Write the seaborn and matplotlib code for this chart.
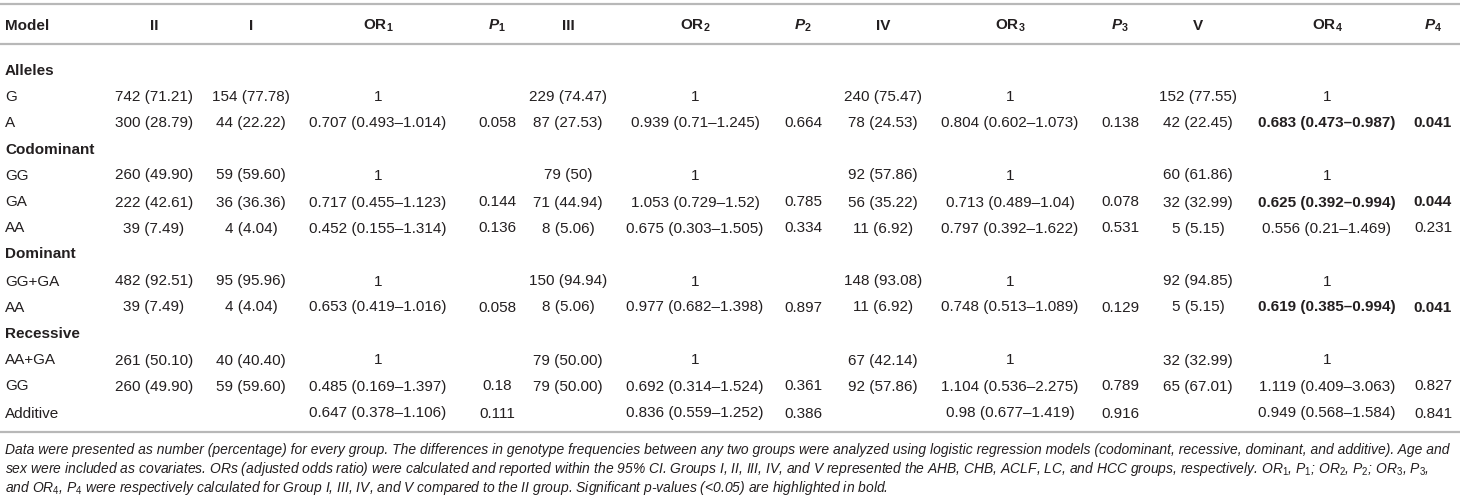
import matplotlib
matplotlib.use("Agg")
import matplotlib.pyplot as plt
import seaborn as sns

# ---------------- data ----------------
columns = ["Model", "II", "I", "OR1", "P1", "III", "OR2", "P2", "IV", "OR3", "P3", "V", "OR4", "P4"]
models = ["Alleles", "G", "A", "Codominant", "GG", "GA", "AA", "Dominant", "GG+GA", "AA",
          "Recessive", "AA+GA", "GG", "Additive"]
section_idx = [0, 3, 7, 10]
II = ["", "742 (71.21)", "300 (28.79)", "", "260 (49.90)", "222 (42.61)", "39 (7.49)", "",
      "482 (92.51)", "39 (7.49)", "", "261 (50.10)", "260 (49.90)", ""]
I = ["", "154 (77.78)", "44 (22.22)", "", "59 (59.60)", "36 (36.36)", "4 (4.04)", "",
     "95 (95.96)", "4 (4.04)", "", "40 (40.40)", "59 (59.60)", ""]
OR1 = ["", "1", "0.707 (0.493–1.014)", "", "1", "0.717 (0.455–1.123)", "0.452 (0.155–1.314)", "",
       "1", "0.653 (0.419–1.016)", "", "1", "0.485 (0.169–1.397)", "0.647 (0.378–1.106)"]
P1 = ["", "", "0.058", "", "", "0.144", "0.136", "", "", "0.058", "", "", "0.18", "0.111"]
III = ["", "229 (74.47)", "87 (27.53)", "", "79 (50)", "71 (44.94)", "8 (5.06)", "",
       "150 (94.94)", "8 (5.06)", "", "79 (50.00)", "79 (50.00)", ""]
OR2 = ["", "1", "0.939 (0.71–1.245)", "", "1", "1.053 (0.729–1.52)", "0.675 (0.303–1.505)", "",
       "1", "0.977 (0.682–1.398)", "", "1", "0.692 (0.314–1.524)", "0.836 (0.559–1.252)"]
P2 = ["", "", "0.664", "", "", "0.785", "0.334", "", "", "0.897", "", "", "0.361", "0.386"]
IV = ["", "240 (75.47)", "78 (24.53)", "", "92 (57.86)", "56 (35.22)", "11 (6.92)", "",
      "148 (93.08)", "11 (6.92)", "", "67 (42.14)", "92 (57.86)", ""]
OR3 = ["", "1", "0.804 (0.602–1.073)", "", "1", "0.713 (0.489–1.04)", "0.797 (0.392–1.622)", "",
       "1", "0.748 (0.513–1.089)", "", "1", "1.104 (0.536–2.275)", "0.98 (0.677–1.419)"]
P3 = ["", "", "0.138", "", "", "0.078", "0.531", "", "", "0.129", "", "", "0.789", "0.916"]
V = ["", "152 (77.55)", "42 (22.45)", "", "60 (61.86)", "32 (32.99)", "5 (5.15)", "",
     "92 (94.85)", "5 (5.15)", "", "32 (32.99)", "65 (67.01)", ""]
OR4 = ["", "1", "0.683 (0.473–0.987)", "", "1", "0.625 (0.392–0.994)", "0.556 (0.21–1.469)", "",
       "1", "0.619 (0.385–0.994)", "", "1", "1.119 (0.409–3.063)", "0.949 (0.568–1.584)"]
P4 = ["", "", "0.041", "", "", "0.044", "0.231", "", "", "0.041", "", "", "0.827", "0.841"]
bold_rows = [2, 5, 9]          # significant rows (OR4 / P4)
bold_cols = ["OR4", "P4"]

header_labels = {
    "Model": "Model", "II": "II", "I": "I", "III": "III", "IV": "IV", "V": "V",
    "OR1": r"$\mathbf{OR}_\mathbf{1}$", "OR2": r"$\mathbf{OR}_\mathbf{2}$",
    "OR3": r"$\mathbf{OR}_\mathbf{3}$", "OR4": r"$\mathbf{OR}_\mathbf{4}$",
    "P1": r"$\mathbfit{P}_\mathbf{1}$", "P2": r"$\mathbfit{P}_\mathbf{2}$",
    "P3": r"$\mathbfit{P}_\mathbf{3}$", "P4": r"$\mathbfit{P}_\mathbf{4}$",
}
footnote = [
    "Data were presented as number (percentage) for every group. The differences in genotype frequencies between any two groups were analyzed using logistic regression models (codominant, recessive, dominant, and additive). Age and",
    r"sex were included as covariates. ORs (adjusted odds ratio) were calculated and reported within the 95% CI. Groups I, II, III, IV, and V represented the AHB, CHB, ACLF, LC, and HCC groups, respectively. $OR_\mathit{1}$, $P_\mathit{1}$; $OR_\mathit{2}$, $P_\mathit{2}$; $OR_\mathit{3}$, $P_\mathit{3}$,",
    r"and $OR_\mathit{4}$, $P_\mathit{4}$ were respectively calculated for Group I, III, IV, and V compared to the II group. Significant p-values (<0.05) are highlighted in bold.",
]

table = {"II": II, "I": I, "OR1": OR1, "P1": P1, "III": III, "OR2": OR2, "P2": P2,
         "IV": IV, "OR3": OR3, "P3": P3, "V": V, "OR4": OR4, "P4": P4}

# ---------------- layout / style ----------------
sns.set_theme(style="white")
plt.rcParams["font.family"] = ["Liberation Sans", "DejaVu Sans"]
plt.rcParams["mathtext.fontset"] = "custom"
plt.rcParams["mathtext.rm"] = "Liberation Sans"
plt.rcParams["mathtext.it"] = "Liberation Sans:italic"
plt.rcParams["mathtext.bf"] = "Liberation Sans:bold"
plt.rcParams["mathtext.bfit"] = "Liberation Sans:italic:bold"

W, H = 1460, 501
col_x = {"II": 154, "I": 251, "OR1": 378, "P1": 497, "III": 568, "OR2": 695, "P2": 803,
         "IV": 883, "OR3": 1010, "P3": 1120, "V": 1198, "OR4": 1327, "P4": 1433}
model_x = 5
text_color = "#231f20"
line_color = "#b8b8b8"
fs = 11
header_base = 29.5
row0_base = 73.5
row_step = 26.4

fig = plt.figure(figsize=(W / 100, H / 100), dpi=100)
ax = fig.add_axes([0, 0, 1, 1])
ax.set_xlim(0, W)
ax.set_ylim(H, 0)
ax.axis("off")

for yl in (4, 44, 432):
    ax.axhline(yl, color=line_color, lw=1.6)

# header
ax.text(model_x, header_base, header_labels["Model"], ha="left", va="baseline",
        fontsize=fs, fontweight="bold", color=text_color)
for c in columns[1:]:
    ax.text(col_x[c], header_base, header_labels[c], ha="center", va="baseline",
            fontsize=fs, fontweight="bold", color=text_color)

# body
for i, m in enumerate(models):
    yb = round(row0_base + i * row_step) + 0.5
    ax.text(model_x, yb, m, ha="left", va="baseline", fontsize=fs,
            fontweight="bold" if i in section_idx else "normal", color=text_color)
    for c, vals in table.items():
        v = vals[i]
        if not v:
            continue
        bold = (i in bold_rows) and (c in bold_cols)
        ax.text(col_x[c], yb, v, ha="center", va="baseline", fontsize=fs,
                fontweight="bold" if bold else "normal", color=text_color)

# footnote: condensed italic if available, scaled so the first line spans the width
foot_family = ["Liberation Sans Narrow", "Liberation Sans", "DejaVu Sans"]
fig.canvas.draw()
r = fig.canvas.get_renderer()
probe = ax.text(0, 0, footnote[0], fontsize=10, fontstyle="italic", family=foot_family)
wpx = probe.get_window_extent(r).width
probe.remove()
ffs = 10 * 1445 / wpx
for k, line in enumerate(footnote):
    ax.text(model_x, 454 + k * 19, line, ha="left", va="baseline", fontsize=ffs,
            fontstyle="italic", family=foot_family, color=text_color)

fig.savefig("out.png", dpi=100)
